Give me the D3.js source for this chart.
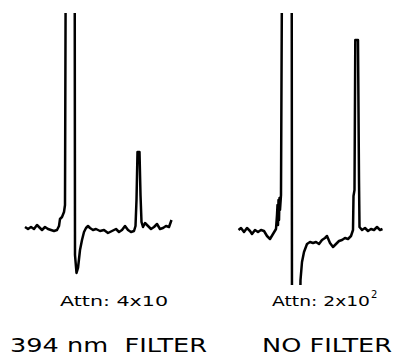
<html>

<head>
  <title>Attn traces</title>
  <script type="text/javascript" src="https://cdn.jsdelivr.net/npm/d3@7"></script>
  <style>
    body { margin: 0; background: #fff; }
    text { font-family: "DejaVu Sans", sans-serif; fill: #000; }
  </style>
</head>

<body>
  <script type="text/javascript">
    const w = 397;
    const h = 355;

    // Trace 1 (394 nm filter): time (arb.) and signal (arb., 0 = baseline)
    const filterTime = [0, 3, 6, 9, 12, 15, 17, 20, 23, 26, 29, 32, 34, 35, 37, 39, 40,
      40.7, 49.7, 50, 51.5, 53, 55, 57, 59, 61, 63, 65, 68, 71, 75, 79, 83, 87, 91, 94, 97,
      100, 103, 106, 109, 110.5, 111.5, 112.5, 114.5, 115.5, 116.5, 118, 120, 123, 126, 129,
      132, 135, 138, 141, 144, 146.5];
    const filterSignal = [1, -1, 1, -1, 3, 0, -2, 1, -1, -2, -3, -2, 2, 9, 11, 16, 23,
      260, 260, -27, -45, -40, -22, -12, -4, 0, 2, 0, -2, -1, -3, -2, -5, -3, -1, -4, -2,
      2, -2, -4, -3, 2, 28, 76, 76, 33, 6, 1, 5, 2, -1, 1,
      4, -1, 0, 2, 1, 8];

    // Trace 2 (no filter)
    const noFilterTime = [0.5, 3, 6, 9, 12, 14, 17, 20, 23, 26, 29, 32, 35, 38,
      39, 39.5, 40, 40.5, 41, 41.5, 42, 43, 44, 53.7, 54, 62, 62.5, 64, 66, 69, 72, 75, 78,
      81, 84, 87, 89, 92, 95, 98, 101, 104, 107, 110, 113, 115, 115.5, 116.5, 117.3, 120,
      121, 121.5, 124, 127, 130, 133, 136, 139, 142, 144.5];
    const noFilterSignal = [-2, 0, -4, 0, -3, -6, -2, -4, -2, -3, -8, -11, -6, -1,
      13, 23, 3, 28, 8, 30, 18, 33, 260, 260, -90, -90, -52, -34, -24, -16, -14, -15, -14,
      -16, -12, -10, -8, -15, -19, -16, -13, -12, -10, -11, -8, -2, 32, 38, 188, 188,
      48, 1, -2, 0, -3, -1, -2, 1, -2, -1];

    const attnLabels = ["Attn: 4x10", "Attn: 2x10"];
    const filterLabels = ["394 nm  FILTER", "NO FILTER"];

    // Scales
    const yScale = d3.scaleLinear()
      .domain([-57, 215])
      .range([285, 13]);

    const xLeft = d3.scaleLinear().domain([0, 150]).range([25, 175]);
    const xRight = d3.scaleLinear().domain([0, 150]).range([238, 388]);

    const svg = d3.select("body")
      .append("svg")
      .attr("width", w)
      .attr("height", h);

    // pen goes off the paper above/below
    svg.append("clipPath")
      .attr("id", "paper")
      .append("rect")
      .attr("x", 0)
      .attr("y", yScale.range()[1])
      .attr("width", w)
      .attr("height", yScale.range()[0] - yScale.range()[1]);

    function drawTrace(ts, vs, xScale) {
      const pts = ts.map(function (t, i) { return [t, vs[i]]; });
      const line = d3.line()
        .x(function (d) { return xScale(d[0]); })
        .y(function (d) { return yScale(d[1]); });
      svg.append("path")
        .datum(pts)
        .attr("clip-path", "url(#paper)")
        .attr("d", line)
        .attr("fill", "none")
        .attr("stroke", "#000")
        .attr("stroke-width", 2.5)
        .attr("stroke-linejoin", "round");
    }

    drawTrace(filterTime, filterSignal, xLeft);
    drawTrace(noFilterTime, noFilterSignal, xRight);

    // Labels
    svg.append("text")
      .attr("x", 60).attr("y", 306)
      .attr("font-size", 14)
      .attr("textLength", 108)
      .attr("lengthAdjust", "spacingAndGlyphs")
      .text(attnLabels[0]);

    const t2 = svg.append("text")
      .attr("x", 272).attr("y", 306)
      .attr("font-size", 14);
    t2.append("tspan")
      .attr("textLength", 98)
      .attr("lengthAdjust", "spacingAndGlyphs")
      .text(attnLabels[1]);
    t2.append("tspan")
      .attr("dx", 1).attr("dy", -8)
      .attr("font-size", 10)
      .text("2");

    svg.append("text")
      .attr("x", 10).attr("y", 352)
      .attr("font-size", 19)
      .attr("textLength", 197)
      .attr("lengthAdjust", "spacingAndGlyphs")
      .style("white-space", "pre")
      .text(filterLabels[0]);

    svg.append("text")
      .attr("x", 262).attr("y", 352)
      .attr("font-size", 19)
      .attr("textLength", 130)
      .attr("lengthAdjust", "spacingAndGlyphs")
      .text(filterLabels[1]);
  </script>
</body>

</html>
